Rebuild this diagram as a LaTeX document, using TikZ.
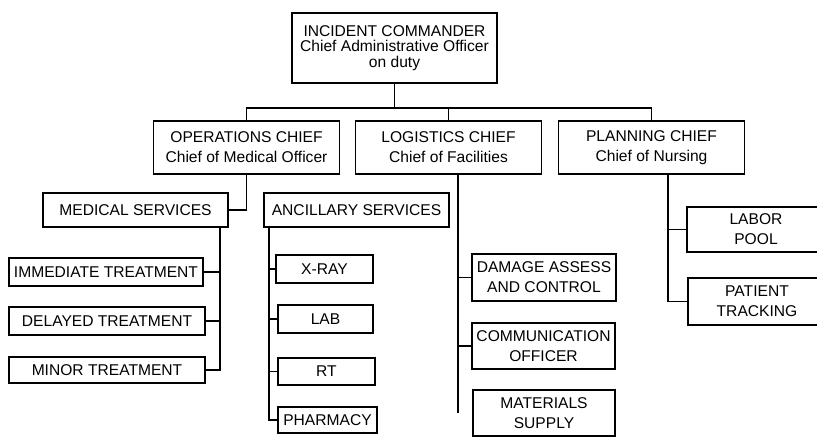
\documentclass[tikz,border=0pt]{standalone}
\usepackage{fontspec}
\setmainfont{Liberation Sans}
\usetikzlibrary{calc}

\newcommand\px{0.75pt}

\begin{document}
\begin{tikzpicture}[
  x=\px, y=-\px,
  box/.style={draw, line width=1.3pt, inner sep=0pt, align=center,
    font=\fontsize{11.7}{15}\selectfont},
  chief/.style={box, minimum width=186*\px, minimum height=53*\px},
  unit/.style={box, minimum width=185*\px, minimum height=34*\px},
  leaf/.style={box, minimum height=28*\px},
  link/.style={line width=1.3pt}
]
  \useasboundingbox (0,0) rectangle (817,437);
  \clip (0,0) rectangle (817,437);

  % command level
  \node[box, minimum width=205*\px, minimum height=70*\px,
        font=\fontsize{11.7}{11.8}\selectfont] (cmd) at (394.5,48)
      {INCIDENT COMMANDER\\Chief Administrative Officer\\on duty};

  \node[chief] (ops)  at (246.5,147.5) {OPERATIONS CHIEF\\Chief of Medical Officer};
  \node[chief] (log)  at (448.5,147.5) {LOGISTICS CHIEF\\Chief of Facilities};
  \node[chief] (plan) at (651.5,147.5) {PLANNING CHIEF\\Chief of Nursing};

  \coordinate (bus) at (0,108);
  \draw[link] (cmd.south) -- (cmd.south |- bus);
  \draw[link] (ops.north) -- (ops.north |- bus) -- (plan.north |- bus) -- (plan.north);
  \draw[link] (log.north) -- (log.north |- bus);

  % operations
  \node[unit] (med) at (135.5,210) {MEDICAL SERVICES};
  \node[unit] (anc) at (356.5,210) {ANCILLARY SERVICES};
  \draw[link] (ops.south) -- (ops.south |- med.east) -- (med.east);

  \node[leaf, minimum width=194*\px] (imm)  at (106,272) {IMMEDIATE TREATMENT};
  \node[leaf, minimum width=196*\px] (dly)  at (107,321) {DELAYED TREATMENT};
  \node[leaf, minimum width=196*\px, minimum height=26*\px] (minr) at (107,370) {MINOR TREATMENT};

  \coordinate (mb) at ($(med.south east)+(-9,0)$);
  \draw[link] (mb) -- (mb |- minr.east) -- (minr.east);
  \draw[link] (imm.east) -- (imm.east -| mb);
  \draw[link] (dly.east) -- (dly.east -| mb);

  \node[leaf, minimum width=97*\px] (xray)  at (324.5,269) {X-RAY};
  \node[leaf, minimum width=95*\px] (lab)   at (325.5,319) {LAB};
  \node[leaf, minimum width=97*\px, minimum height=27*\px] (rt) at (326.5,371.5) {RT};
  \node[leaf, minimum width=99*\px, minimum height=26*\px] (pharm) at (327.5,420) {PHARMACY};

  \coordinate (ab) at ($(anc.south west)+(6,0)$);
  \draw[link] (ab) -- (ab |- pharm.west) -- (pharm.west);
  \foreach \n in {xray,lab,rt}
    \draw[link] (\n.west) -- (\n.west -| ab);

  % logistics
  \node[box, minimum width=144*\px, minimum height=47*\px] (dmg)  at (544,277.5) {DAMAGE ASSESS\\AND CONTROL};
  \node[box, minimum width=143*\px, minimum height=46*\px] (comm) at (543.5,346) {COMMUNICATION\\OFFICER};
  \node[box, minimum width=142*\px, minimum height=46*\px] (mat)  at (544,413)   {MATERIALS\\SUPPLY};

  \coordinate (lb) at ($(log.south)+(9.5,0)$);
  \draw[link] (lb) -- (lb |- mat.west);
  \draw[link] (dmg.west) -- (dmg.west -| lb);
  \draw[link] (comm.west) -- (comm.west -| lb);

  % planning (boxes run past the right edge)
  \node[box, minimum width=150*\px, minimum height=45*\px] (labor) at (762,229.5)
      {\hspace*{-9pt}LABOR\\\hspace*{-9pt}POOL};
  \node[box, minimum width=150*\px, minimum height=47*\px] (pat)   at (763,301.5)
      {\hspace*{-9pt}PATIENT\\\hspace*{-9pt}TRACKING};

  \coordinate (pb) at ($(plan.south)+(16.5,0)$);
  \draw[link] (pb) -- (pb |- pat.west) -- (pat.west);
  \draw[link] (labor.west) -- (labor.west -| pb);
\end{tikzpicture}
\end{document}
